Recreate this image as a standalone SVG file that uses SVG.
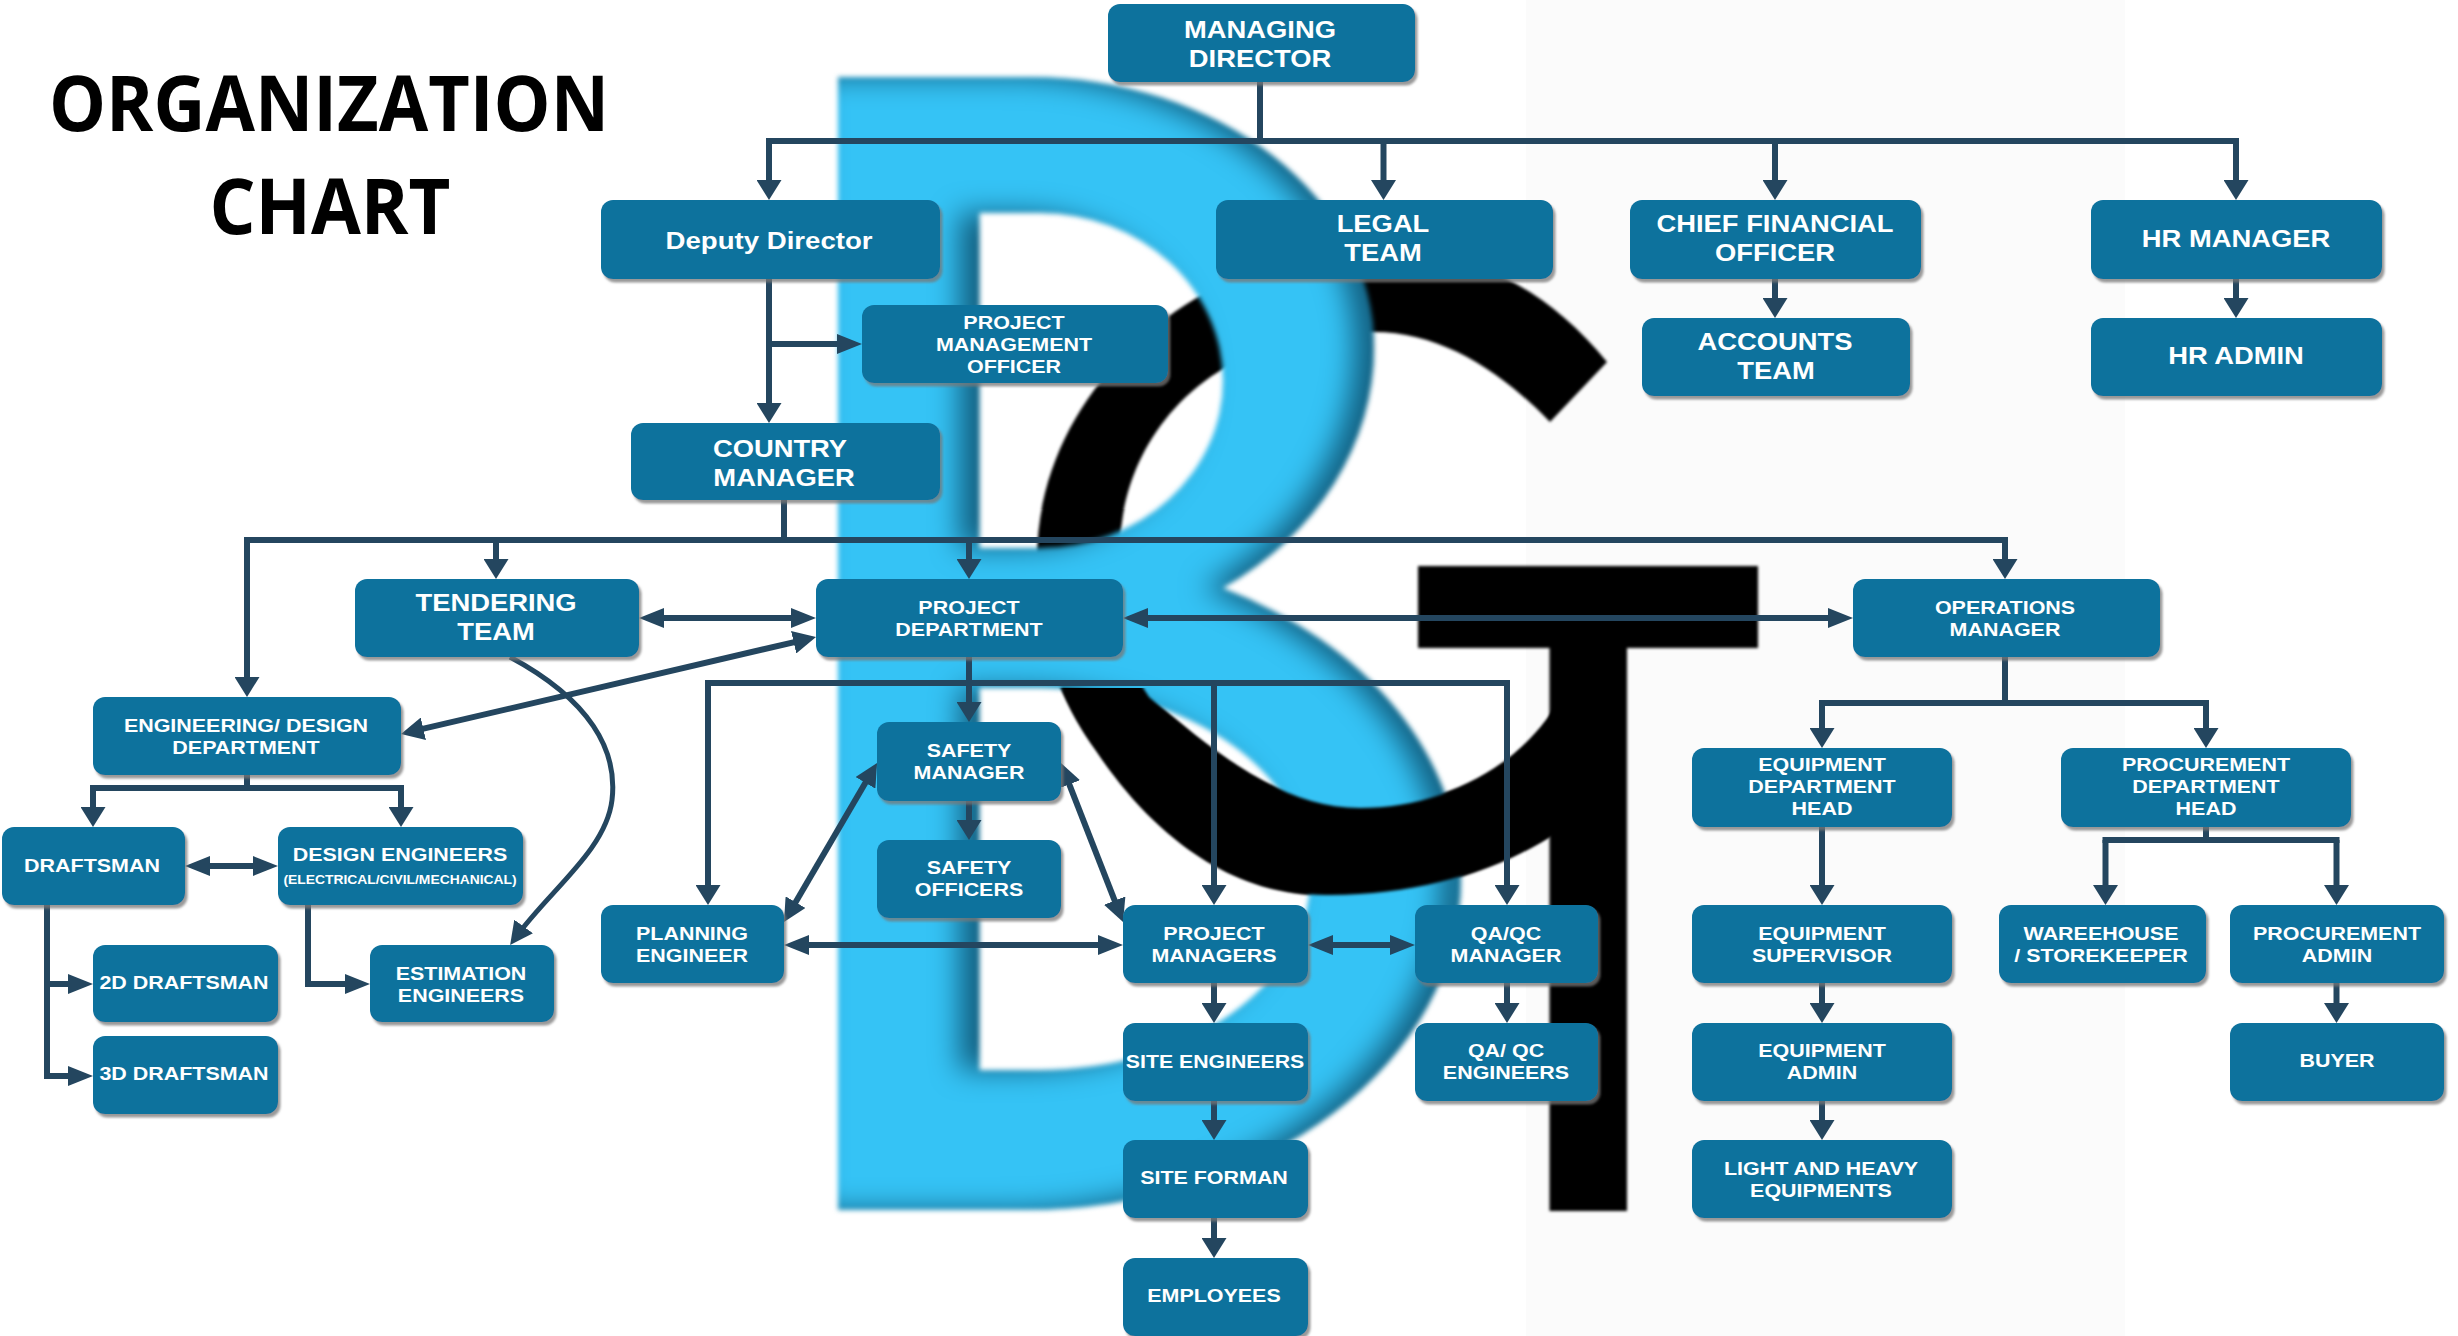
<svg xmlns="http://www.w3.org/2000/svg" xmlns:xlink="http://www.w3.org/1999/xlink" width="2458" height="1336" viewBox="0 0 2458 1336">
<style>
.n rect{fill:#11729d;filter:url(#sh)}
.n text{font-family:"Liberation Sans",Arial,sans-serif;font-weight:700;fill:#fff;text-anchor:middle}
.l text{font-size:24px}
.s text{font-size:18.5px}
text.x{font-size:12.5px}
.t{font-family:"Open Sans","Noto Sans",sans-serif;font-weight:700;font-size:77px;fill:#000;text-anchor:middle}
#connectors path{fill:none;stroke:#24465f;stroke-width:6;stroke-linecap:butt;stroke-linejoin:miter}
.v{marker-end:url(#av)}
.h{marker-end:url(#ah)}
.hh{marker-start:url(#ah);marker-end:url(#ah)}
.dd{marker-start:url(#ad);marker-end:url(#ad)}
.d{marker-end:url(#ad)}
</style>
<defs>
<filter id="sh" x="-5%" y="-5%" width="112%" height="115%"><feDropShadow dx="2.5" dy="3.5" stdDeviation="1.2" flood-color="#777" flood-opacity=".75"/></filter>
<filter id="soft" x="-2%" y="-2%" width="104%" height="104%"><feGaussianBlur stdDeviation="1.6"/></filter>
<filter id="inner" x="-5%" y="-5%" width="110%" height="110%" color-interpolation-filters="sRGB">
<feFlood flood-color="#125f80" flood-opacity="1" result="c"/>
<feComposite in="c" in2="SourceAlpha" operator="out" result="o"/>
<feOffset in="o" dx="-20" dy="0" result="o2"/>
<feGaussianBlur in="o2" stdDeviation="14" result="b"/>
<feComposite in="b" in2="SourceAlpha" operator="in" result="i"/>
<feMerge result="m"><feMergeNode in="SourceGraphic"/><feMergeNode in="i"/></feMerge>
<feGaussianBlur in="m" stdDeviation="2.6"/>
</filter>
<clipPath id="low"><rect x="1000" y="688" width="700" height="300"/></clipPath>
<path id="cring" d="M1607,362C1540,280 1460,248 1370,248C1210,248 1037,380 1037,560C1037,640 1060,700 1097,751C1140,815 1215,894 1325,895C1420,896 1500,870 1560,830V700C1520,770 1440,808 1360,808C1280,808 1210,750 1149,697C1110,640 1115,570 1123,515C1135,440 1200,332 1374,332C1440,332 1500,370 1550,422Z"/>
<marker id="av" markerUnits="userSpaceOnUse" markerWidth="20" markerHeight="25" refX="10" refY="12.5" orient="auto-start-reverse"><path d="M0,0L20,12.5L0,25Z" fill="#24465f"/></marker>
<marker id="ah" markerUnits="userSpaceOnUse" markerWidth="25" markerHeight="20" refX="15" refY="10" orient="auto-start-reverse"><path d="M0,0L25,10L0,20Z" fill="#24465f"/></marker>
<marker id="ad" markerUnits="userSpaceOnUse" markerWidth="23" markerHeight="23" refX="13" refY="11.5" orient="auto-start-reverse"><path d="M0,0L23,11.5L0,23Z" fill="#24465f"/></marker>
</defs>
<rect width="2458" height="1336" fill="#fff"/>
<rect x="1526" y="0" width="599" height="1336" fill="#fbfbfb"/>
<g id="logo">
<use xlink:href="#cring" href="#cring" fill="#000" filter="url(#soft)"/>
<path fill="#35c3f5" fill-rule="evenodd" filter="url(#inner)" d="M838,77H1030A344,270 0 0 1 1374,347A344,290 0 0 1 1223,588A436,330 0 0 1 1461,880A436,330 0 0 1 1025,1210H838ZM979.5,213V548H1040A183,167.5 0 0 0 1040,213ZM979.5,688V1070H1040A270,191 0 0 0 1040,688Z"/>
<g clip-path="url(#low)"><use xlink:href="#cring" href="#cring" fill="#000" filter="url(#soft)"/></g>
<path d="M1418,566H1758V648H1627V1211H1549.5V648H1418Z" fill="#000" filter="url(#soft)"/>
</g>
<text class="t" transform="translate(329 131)" textLength="560" lengthAdjust="spacingAndGlyphs">ORGANIZATION</text>
<text class="t" transform="translate(330 234)" textLength="241" lengthAdjust="spacingAndGlyphs">CHART</text>
<g id="connectors">
<path d="M1260,82V144"/><path d="M766,141H2239"/>
<path class="v" d="M769,141V190"/><path class="v" d="M1383.5,141V190"/><path class="v" d="M1775,141V190"/><path class="v" d="M2236,141V190"/>
<path class="v" d="M1775,279V308"/><path class="v" d="M2236,279V308"/>
<path class="v" d="M769,279V413"/><path class="h" d="M769,344H852"/>
<path d="M784,500V543"/><path d="M244,540H2008"/>
<path class="v" d="M247,540V687"/><path class="v" d="M496,540V569"/><path class="v" d="M969,540V569"/><path class="v" d="M2005,540V569"/>
<path class="hh" d="M649,618H806"/><path class="hh" d="M1133,618H1843"/>
<path class="dd" d="M806.3,639.3L410.7,731.7"/>
<path class="v" d="M969,657V712"/><path d="M705,683H1510"/>
<path class="v" d="M708,683V895"/><path class="v" d="M1214,683V895"/><path class="v" d="M1507,683V895"/>
<path class="v" d="M969,801V830"/>
<path class="dd" d="M872,771.6L789,913.4"/><path class="dd" d="M1064.6,772.3L1119.4,912.7"/>
<path class="hh" d="M794,945H1113"/><path class="hh" d="M1318,945H1405"/>
<path class="v" d="M1214,983V1013"/><path class="v" d="M1214,1101V1130"/><path class="v" d="M1214,1218V1248"/>
<path class="v" d="M1507,983V1013"/>
<path d="M247,775V791"/><path d="M90,788H404"/><path class="v" d="M93,788V817"/><path class="v" d="M401,788V817"/>
<path class="hh" d="M195,866H268"/>
<path class="h" d="M47,905V1076H83"/><path class="h" d="M47,984H83"/>
<path class="h" d="M308,905V984H360"/>
<path class="d" style="stroke-width:5" d="M510,657C590,700 618,750 612,800C606,850 550,890 516,937"/>
<path d="M2005,657V706"/><path d="M1819,703H2209"/><path class="v" d="M1822,703V738"/><path class="v" d="M2206,703V738"/>
<path class="v" d="M1822,827V895"/><path class="v" d="M1822,983V1013"/><path class="v" d="M1822,1101V1130"/>
<path d="M2206,827V843"/><path d="M2102.5,840H2339.5"/><path class="v" d="M2105.5,840V895"/><path class="v" d="M2336.5,840V895"/><path class="v" d="M2336.5,983V1013"/>
</g>
<g id="managing-director" class="n l"><rect x="1108" y="4" width="307" height="78" rx="12"/><text transform="translate(1260 38) scale(1.14 1)">MANAGING</text><text transform="translate(1260 67) scale(1.14 1)">DIRECTOR</text></g>
<g id="deputy-director" class="n l"><rect x="601" y="200" width="339" height="79" rx="12"/><text transform="translate(769 249) scale(1.15 1)">Deputy Director</text></g>
<g id="legal-team" class="n l"><rect x="1216" y="200" width="337" height="79" rx="12"/><text transform="translate(1383 232) scale(1.14 1)">LEGAL</text><text transform="translate(1383 261) scale(1.14 1)">TEAM</text></g>
<g id="cfo" class="n l"><rect x="1630" y="200" width="291" height="79" rx="12"/><text transform="translate(1775 232) scale(1.14 1)">CHIEF FINANCIAL</text><text transform="translate(1775 261) scale(1.14 1)">OFFICER</text></g>
<g id="hr-manager" class="n l"><rect x="2091" y="200" width="291" height="79" rx="12"/><text transform="translate(2236 247) scale(1.14 1)">HR MANAGER</text></g>
<g id="accounts-team" class="n l"><rect x="1642" y="318" width="268" height="78" rx="12"/><text transform="translate(1775 350) scale(1.14 1)">ACCOUNTS</text><text transform="translate(1776 379) scale(1.14 1)">TEAM</text></g>
<g id="hr-admin" class="n l"><rect x="2091" y="318" width="291" height="78" rx="12"/><text transform="translate(2236 364) scale(1.14 1)">HR ADMIN</text></g>
<g id="pmo" class="n s"><rect x="862" y="305" width="306" height="78" rx="12"/><text transform="translate(1014 329) scale(1.16 1)">PROJECT</text><text transform="translate(1014 351) scale(1.16 1)">MANAGEMENT</text><text transform="translate(1014 373) scale(1.16 1)">OFFICER</text></g>
<g id="country-manager" class="n l"><rect x="631" y="423" width="309" height="77" rx="12"/><text transform="translate(780 456.5) scale(1.14 1)">COUNTRY</text><text transform="translate(784 485.5) scale(1.14 1)">MANAGER</text></g>
<g id="tendering-team" class="n l"><rect x="355" y="579" width="284" height="78" rx="12"/><text transform="translate(496 611) scale(1.14 1)">TENDERING</text><text transform="translate(496 639.5) scale(1.14 1)">TEAM</text></g>
<g id="project-department" class="n s"><rect x="816" y="579" width="307" height="78" rx="12"/><text transform="translate(969 614) scale(1.16 1)">PROJECT</text><text transform="translate(969 636) scale(1.16 1)">DEPARTMENT</text></g>
<g id="operations-manager" class="n s"><rect x="1853" y="579" width="307" height="78" rx="12"/><text transform="translate(2005 614) scale(1.16 1)">OPERATIONS</text><text transform="translate(2005 636) scale(1.16 1)">MANAGER</text></g>
<g id="engineering-design" class="n s"><rect x="93" y="697" width="308" height="78" rx="12"/><text transform="translate(246 732) scale(1.16 1)">ENGINEERING/ DESIGN</text><text transform="translate(246 754) scale(1.16 1)">DEPARTMENT</text></g>
<g id="safety-manager" class="n s"><rect x="877" y="722" width="184" height="79" rx="12"/><text transform="translate(969 757) scale(1.16 1)">SAFETY</text><text transform="translate(969 779) scale(1.16 1)">MANAGER</text></g>
<g id="safety-officers" class="n s"><rect x="877" y="840" width="184" height="78" rx="12"/><text transform="translate(969 874) scale(1.16 1)">SAFETY</text><text transform="translate(969 896) scale(1.16 1)">OFFICERS</text></g>
<g id="equipment-head" class="n s"><rect x="1692" y="748" width="260" height="79" rx="12"/><text transform="translate(1822 771) scale(1.16 1)">EQUIPMENT</text><text transform="translate(1822 793) scale(1.16 1)">DEPARTMENT</text><text transform="translate(1822 815) scale(1.16 1)">HEAD</text></g>
<g id="procurement-head" class="n s"><rect x="2061" y="748" width="290" height="79" rx="12"/><text transform="translate(2206 771) scale(1.16 1)">PROCUREMENT</text><text transform="translate(2206 793) scale(1.16 1)">DEPARTMENT</text><text transform="translate(2206 815) scale(1.16 1)">HEAD</text></g>
<g id="draftsman" class="n s"><rect x="2" y="827" width="183" height="78" rx="12"/><text transform="translate(92 872) scale(1.16 1)">DRAFTSMAN</text></g>
<g id="design-engineers" class="n s"><rect x="278" y="827" width="245" height="78" rx="12"/><text transform="translate(400 861) scale(1.16 1)">DESIGN ENGINEERS</text><text class="x" transform="translate(400 884) scale(1.11 1)">(ELECTRICAL/CIVIL/MECHANICAL)</text></g>
<g id="planning-engineer" class="n s"><rect x="601" y="905" width="183" height="78" rx="12"/><text transform="translate(692 939.5) scale(1.16 1)">PLANNING</text><text transform="translate(692 961.5) scale(1.16 1)">ENGINEER</text></g>
<g id="project-managers" class="n s"><rect x="1123" y="905" width="185" height="78" rx="12"/><text transform="translate(1214 939.5) scale(1.16 1)">PROJECT</text><text transform="translate(1214 961.5) scale(1.16 1)">MANAGERS</text></g>
<g id="qa-qc-manager" class="n s"><rect x="1415" y="905" width="183" height="78" rx="12"/><text transform="translate(1506 939.5) scale(1.16 1)">QA/QC</text><text transform="translate(1506 961.5) scale(1.16 1)">MANAGER</text></g>
<g id="equipment-supervisor" class="n s"><rect x="1692" y="905" width="260" height="78" rx="12"/><text transform="translate(1822 939.5) scale(1.16 1)">EQUIPMENT</text><text transform="translate(1822 961.5) scale(1.16 1)">SUPERVISOR</text></g>
<g id="warehouse" class="n s"><rect x="1999" y="905" width="207" height="78" rx="12"/><text transform="translate(2101 939.5) scale(1.16 1)">WAREEHOUSE</text><text transform="translate(2101 961.5) scale(1.16 1)">/ STOREKEEPER</text></g>
<g id="procurement-admin" class="n s"><rect x="2230" y="905" width="214" height="78" rx="12"/><text transform="translate(2337 939.5) scale(1.16 1)">PROCUREMENT</text><text transform="translate(2337 961.5) scale(1.16 1)">ADMIN</text></g>
<g id="draftsman-2d" class="n s"><rect x="93" y="945" width="185" height="77" rx="12"/><text transform="translate(184 989) scale(1.16 1)">2D DRAFTSMAN</text></g>
<g id="estimation-engineers" class="n s"><rect x="370" y="945" width="184" height="77" rx="12"/><text transform="translate(461 980) scale(1.16 1)">ESTIMATION</text><text transform="translate(461 1002) scale(1.16 1)">ENGINEERS</text></g>
<g id="site-engineers" class="n s"><rect x="1123" y="1023" width="185" height="78" rx="12"/><text transform="translate(1215 1067.5) scale(1.15 1)">SITE ENGINEERS</text></g>
<g id="qa-qc-engineers" class="n s"><rect x="1415" y="1023" width="183" height="78" rx="12"/><text transform="translate(1506 1057) scale(1.16 1)">QA/ QC</text><text transform="translate(1506 1079) scale(1.16 1)">ENGINEERS</text></g>
<g id="equipment-admin" class="n s"><rect x="1692" y="1023" width="260" height="78" rx="12"/><text transform="translate(1822 1057) scale(1.16 1)">EQUIPMENT</text><text transform="translate(1822 1079) scale(1.16 1)">ADMIN</text></g>
<g id="buyer" class="n s"><rect x="2230" y="1023" width="214" height="78" rx="12"/><text transform="translate(2337 1067) scale(1.16 1)">BUYER</text></g>
<g id="draftsman-3d" class="n s"><rect x="93" y="1036" width="185" height="78" rx="12"/><text transform="translate(184 1080) scale(1.16 1)">3D DRAFTSMAN</text></g>
<g id="site-forman" class="n s"><rect x="1123" y="1140" width="185" height="78" rx="12"/><text transform="translate(1214 1184) scale(1.16 1)">SITE FORMAN</text></g>
<g id="light-heavy" class="n s"><rect x="1692" y="1140" width="260" height="78" rx="12"/><text transform="translate(1821 1174.5) scale(1.16 1)">LIGHT AND HEAVY</text><text transform="translate(1821 1196.5) scale(1.16 1)">EQUIPMENTS</text></g>
<g id="employees" class="n s"><rect x="1123" y="1258" width="185" height="78" rx="12"/><text transform="translate(1214 1302) scale(1.16 1)">EMPLOYEES</text></g>
</svg>
